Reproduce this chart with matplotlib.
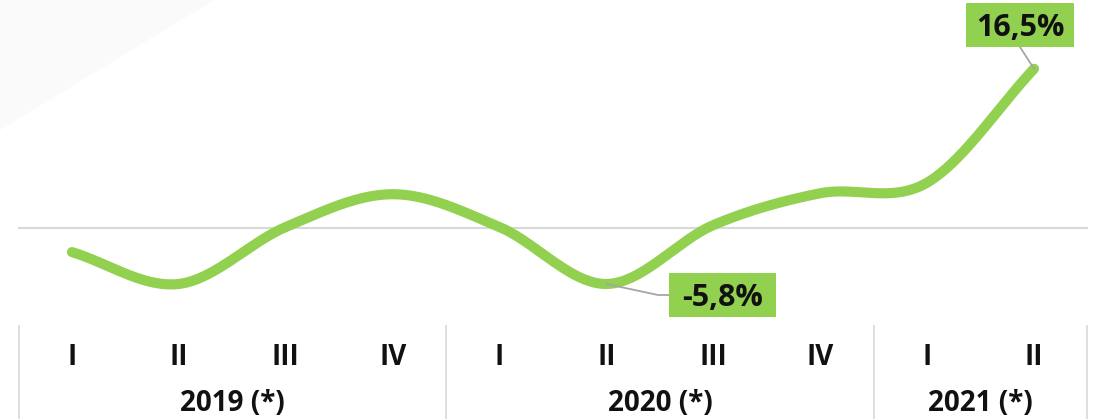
import numpy as np
import matplotlib.pyplot as plt
from matplotlib.patches import Rectangle, Polygon
from matplotlib.transforms import blended_transform_factory

# data
quarters = ["I", "II", "III", "IV", "I", "II", "III", "IV", "I", "II"]
years = ["2019 (*)", "2020 (*)", "2021 (*)"]
year_spans = [(0, 3), (4, 7), (8, 9)]
values = [-2.5, -5.8, 0.1, 3.5, 0.1, -5.8, 0.3, 3.6, 4.7, 16.5]
labelled = {5: "-5,8%", 9: "16,5%"}

GREEN = "#92D050"
W, H = 1099, 419

fig = plt.figure(figsize=(W / 100, H / 100), dpi=100)
ax = fig.add_axes([0, 0, 1, 1])

# pixel mapping: x=0 -> 72px, x=9 -> 1034px ; y=0 -> 228px, 9.65 px per %
px_x = (1034 - 72) / 9
px_y = 9.65
ax.set_xlim(-72 / px_x, (W - 72) / px_x)
ax.set_ylim(-(H - 228) / px_y, 228 / px_y)
ax.axis("off")


def fig_xy(px, py):
    return px / W, 1 - py / H


# faint background shape top-left
fig.patches.append(Polygon([fig_xy(0, 0), fig_xy(214, 0), fig_xy(0, 130)],
                           closed=True, fc="#fafafa", ec="none",
                           transform=fig.transFigure, zorder=0))


def catmull_rom(x, y, n=40):
    x = np.asarray(x, float)
    y = np.asarray(y, float)
    px = np.concatenate([[2 * x[0] - x[1]], x, [2 * x[-1] - x[-2]]])
    py = np.concatenate([[2 * y[0] - y[1]], y, [2 * y[-1] - y[-2]]])
    xs, ys = [], []
    t = np.linspace(0, 1, n)
    for i in range(1, len(px) - 2):
        for arr, out in ((px, xs), (py, ys)):
            p0, p1, p2, p3 = arr[i - 1], arr[i], arr[i + 1], arr[i + 2]
            seg = 0.5 * ((2 * p1) + (-p0 + p2) * t
                         + (2 * p0 - 5 * p1 + 4 * p2 - p3) * t ** 2
                         + (-p0 + 3 * p1 - 3 * p2 + p3) * t ** 3)
            out.extend(seg)
    return np.array(xs), np.array(ys)


xpos = np.arange(len(values))

# zero line
ax.plot([-0.5, 9.5], [0, 0], color="#d9d9d9", lw=1.5, zorder=1)

# separators
trans = blended_transform_factory(ax.transData, ax.transAxes)
for sx in [-0.5, 3.5, 7.5, 9.5]:
    ax.plot([sx, sx], [0, (H - 326) / H], color="#d9d9d9", lw=1.2,
            transform=trans, zorder=1)

# smooth line
sx_, sy_ = catmull_rom(xpos, values)
ax.plot(sx_, sy_, color=GREEN, lw=7.3, solid_capstyle="round", zorder=3)

# quarter labels
for i, q in enumerate(quarters):
    ax.text(i, (H - 365) / H, q, transform=trans, ha="center", va="baseline",
            fontsize=20, fontweight="bold", family="Open Sans", color="#111111")

# year labels
for (a, b), yl in zip(year_spans, years):
    ax.text((a + b) / 2, (H - 411) / H, yl, transform=trans, ha="center",
            va="baseline", fontsize=20, fontweight="bold", family="Open Sans",
            color="#111111")

# value labels with boxes and leader lines
boxes = {5: (669, 273, 107, 44), 9: (966, 3, 108, 44)}
leaders = {5: [(658, 295), (669, 295)], 9: [(1020, 47)]}
for i, txt in labelled.items():
    bx, by, bw, bh = boxes[i]
    p0 = ax.transData.transform((xpos[i], values[i]))
    pts = [(p0[0], p0[1])] + [(px, H - py) for px, py in leaders[i]]
    pts = np.array(pts)
    fig.add_artist(plt.Line2D(pts[:, 0] / W, pts[:, 1] / H, color="#a6a6a6",
                              lw=1.3, transform=fig.transFigure, zorder=2))
    fig.patches.append(Rectangle(fig_xy(bx, by + bh), bw / W, bh / H,
                                 fc=GREEN, ec="none", transform=fig.transFigure,
                                 zorder=4))
    cx, cy = fig_xy(bx + bw / 2, by + bh / 2 + 11)
    fig.text(cx, cy, txt, ha="center", va="baseline", fontsize=22,
             fontweight="bold", family="Open Sans", color="#111111", zorder=5)

fig.savefig("out.png", dpi=100)
